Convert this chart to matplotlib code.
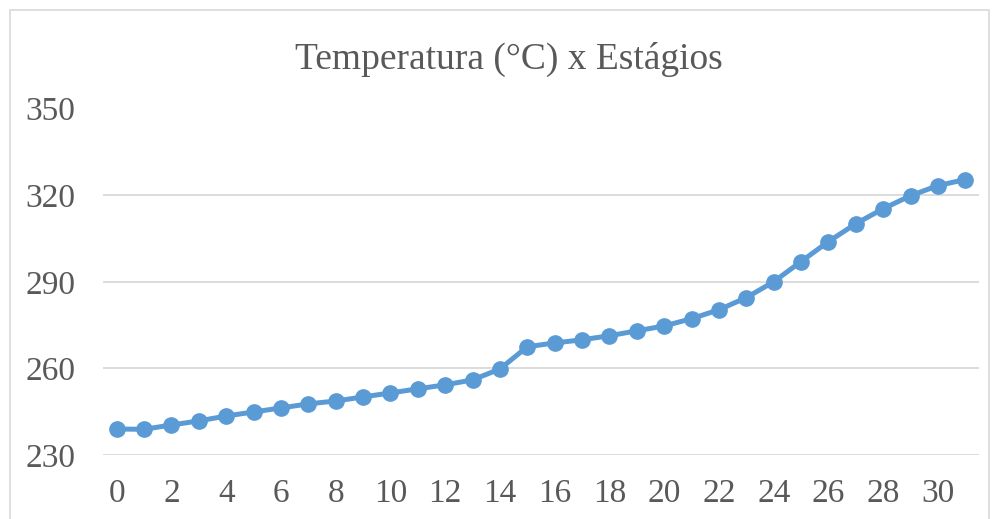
import matplotlib.pyplot as plt
from matplotlib.patches import Rectangle

# data
estagios = list(range(32))
temperatura = [
    239.0, 238.9, 240.4, 241.8, 243.5, 244.9, 246.3, 247.7,
    248.7, 250.1, 251.5, 252.9, 254.3, 256.0, 259.8, 267.5,
    268.8, 269.9, 271.3, 273.0, 274.7, 277.2, 280.3, 284.5,
    290.0, 297.0, 303.9, 310.1, 315.3, 319.8, 323.3, 325.4,
]
y_ticks = [230, 260, 290, 320, 350]
x_ticks = list(range(0, 31, 2))
TITLE = "Temperatura (°C) x Estágios"

TEXT_COLOR = "#595959"
LINE_COLOR = "#5B9BD5"
GRID_COLOR = "#D9D9D9"
W, H = 997, 519

plt.rcParams["font.family"] = ["Liberation Serif", "DejaVu Serif"]

fig = plt.figure(figsize=(W / 100, H / 100), dpi=100)
ax = fig.add_axes([103 / W, 1 - 455 / H, (979 - 103) / W, (455 - 108.5) / H])

ax.plot(estagios, temperatura, color=LINE_COLOR, linewidth=3.6,
        marker="o", markersize=11, solid_capstyle="round", zorder=3)

ax.set_xlim(-0.5, 31.5)
ax.set_ylim(230, 350)
ax.set_yticks(y_ticks)
ax.set_xticks(x_ticks)
ax.grid(axis="y", color=GRID_COLOR, linewidth=1.3)
ax.set_axisbelow(True)
for s in ax.spines.values():
    s.set_visible(False)
ax.tick_params(length=0, labelsize=24, colors=TEXT_COLOR)
ax.tick_params(axis="y", pad=20)
ax.tick_params(axis="x", pad=17)

fig.text(509 / W, 1 - 69 / H, TITLE, ha="center", va="baseline",
         fontsize=27, color=TEXT_COLOR)

# chart area border
fig.patches.append(Rectangle((10 / W, -0.1), (989 - 10) / W, 1.1 - 10 / H,
                             transform=fig.transFigure, fill=False,
                             edgecolor=GRID_COLOR, linewidth=1.2))

plt.savefig("out.png", dpi=100)
